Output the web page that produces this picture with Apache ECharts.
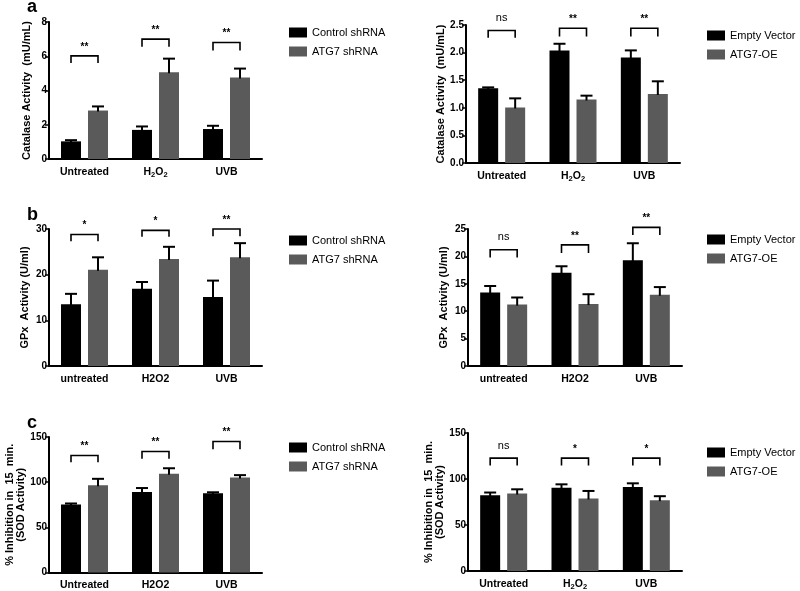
<!DOCTYPE html>
<html>
<head>
<meta charset="utf-8">
<script src="https://cdn.jsdelivr.net/npm/echarts@6/dist/echarts.min.js"></script>
<style>html,body{margin:0;padding:0;background:#fff}#c{width:800px;height:591px}</style>
</head>
<body>
<div id="c"></div>
<script>
// ---------- DATA ----------
const catsA = ['Untreated', 'H2O2', 'UVB'];
const catsB = ['untreated', 'H2O2', 'UVB'];
const catsC = ['Untreated', 'H2O2', 'UVB'];

const legendKD = ['Control shRNA', 'ATG7 shRNA'];
const legendOE = ['Empty Vector', 'ATG7-OE'];

// Panel a, left (knock-down): Catalase
const aL_ctrl = [1.03, 1.70, 1.75];
const aL_ctrlErr = [0.07, 0.20, 0.19];
const aL_atg = [2.83, 5.07, 4.76];
const aL_atgErr = [0.24, 0.79, 0.52];
const aL_sigTop = [6.02, 7.0, 6.8];
const aL_sigLeg = [5.6, 6.56, 6.33];
const aL_sig = ['**', '**', '**'];

// Panel a, right (overexpression): Catalase
const aR_ev = [1.355, 2.04, 1.91];
const aR_evErr = [0.015, 0.12, 0.13];
const aR_oe = [1.006, 1.15, 1.25];
const aR_oeErr = [0.165, 0.07, 0.23];
const aR_sigTop = [2.40, 2.44, 2.44];
const aR_sigLeg = [2.27, 2.29, 2.29];
const aR_sig = ['ns', '**', '**'];

// Panel b, left: GPx
const bL_ctrl = [13.5, 16.9, 15.1];
const bL_ctrlErr = [2.3, 1.5, 3.6];
const bL_atg = [21.1, 23.45, 23.8];
const bL_atgErr = [2.7, 2.65, 3.1];
const bL_sigTop = [28.8, 29.7, 30.0];
const bL_sigLeg = [27.3, 28.3, 28.4];
const bL_sig = ['*', '*', '**'];

// Panel b, right: GPx
const bR_ev = [13.4, 17.0, 19.3];
const bR_evErr = [1.2, 1.2, 3.1];
const bR_oe = [11.2, 11.3, 13.0];
const bR_oeErr = [1.3, 1.8, 1.4];
const bR_sigTop = [21.2, 22.1, 25.3];
const bR_sigLeg = [19.8, 20.6, 23.9];
const bR_sig = ['ns', '**', '**'];

// Panel c, left: SOD
const cL_ctrl = [75.4, 89.2, 87.7];
const cL_ctrlErr = [1.0, 4.3, 1.1];
const cL_atg = [96.5, 109.2, 105.2];
const cL_atgErr = [7.2, 6.2, 2.6];
const cL_sigTop = [129.6, 134, 145];
const cL_sigLeg = [122, 126, 136.5];
const cL_sig = ['**', '**', '**'];

// Panel c, right: SOD
const cR_ev = [82.4, 90.6, 91.4];
const cR_evErr = [2.9, 3.6, 3.9];
const cR_oe = [84.2, 78.8, 77.0];
const cR_oeErr = [4.6, 8.2, 4.3];
const cR_sigTop = [122.7, 122.7, 122.7];
const cR_sigLeg = [114.7, 114.7, 114.7];
const cR_sig = ['ns', '*', '*'];

// y-axis ticks
const aL_yTicks = [0, 2, 4, 6, 8];
const aR_yTicks = [0, 0.5, 1.0, 1.5, 2.0, 2.5];
const bL_yTicks = [0, 10, 20, 30];
const bR_yTicks = [0, 5, 10, 15, 20, 25];
const cL_yTicks = [0, 50, 100, 150];
const cR_yTicks = [0, 50, 100, 150];

const yNames = ['Catalase Activity  (mU/mL)', 'Catalase Activity  (mU/mL)',
  'GPx  Activity (U/ml)', 'GPx  Activity (U/ml)',
  '% Inhibition in  15  min.\n(SOD Activity)', '% Inhibition in  15  min.\n(SOD Activity)'];

// ---------- STYLE / LAYOUT ----------
const BAR_W = 20, BAR_GAP = 7;
const OFF = (BAR_W + BAR_GAP) / 2;
const C_DARK = '#000000', C_GRAY = '#5a5a5a';
const FONT = 'Liberation Sans, Arial, sans-serif';

const panels = [
  {grid: {left: 49, top: 22, width: 213, height: 137}, cats: catsA, sub: true, s: [aL_ctrl, aL_ctrlErr, aL_atg, aL_atgErr], sig: [aL_sigTop, aL_sigLeg, aL_sig], names: legendKD, ticks: aL_yTicks, dec: 0, nameGap: 17, legend: {left: 289, top: 27}},
  {grid: {left: 466, top: 25, width: 214, height: 138}, cats: catsA, sub: true, s: [aR_ev, aR_evErr, aR_oe, aR_oeErr], sig: [aR_sigTop, aR_sigLeg, aR_sig], names: legendOE, ticks: aR_yTicks, dec: 1, nameGap: 18, legend: {left: 707, top: 30}},
  {grid: {left: 49, top: 229, width: 213, height: 137}, cats: catsB, sub: false, s: [bL_ctrl, bL_ctrlErr, bL_atg, bL_atgErr], sig: [bL_sigTop, bL_sigLeg, bL_sig], names: legendKD, ticks: bL_yTicks, dec: 0, nameGap: 19, legend: {left: 289, top: 235}},
  {grid: {left: 468, top: 229, width: 214, height: 137}, cats: catsB, sub: false, s: [bR_ev, bR_evErr, bR_oe, bR_oeErr], sig: [bR_sigTop, bR_sigLeg, bR_sig], names: legendOE, ticks: bR_yTicks, dec: 0, nameGap: 19, legend: {left: 707, top: 234}},
  {grid: {left: 49, top: 437, width: 213, height: 137}, cats: catsC, sub: false, s: [cL_ctrl, cL_ctrlErr, cL_atg, cL_atgErr], sig: [cL_sigTop, cL_sigLeg, cL_sig], names: legendKD, ticks: cL_yTicks, dec: 0, nameGap: 22, legend: {left: 289, top: 442}},
  {grid: {left: 468, top: 433, width: 214, height: 139}, cats: catsC, sub: true, s: [cR_ev, cR_evErr, cR_oe, cR_oeErr], sig: [cR_sigTop, cR_sigLeg, cR_sig], names: legendOE, ticks: cR_yTicks, dec: 0, nameGap: 20, legend: {left: 707, top: 447}}
];

const richLabel = {
  n: {fontSize: 10.5, fontWeight: 'bold', fontFamily: FONT, color: '#000', lineHeight: 14},
  s: {fontSize: 7.5, fontWeight: 'bold', fontFamily: FONT, color: '#000', verticalAlign: 'bottom', lineHeight: 14, padding: [6, 0, 0, 0]}
};

const option = {
  animation: false,
  backgroundColor: '#fff',
  textStyle: {fontFamily: FONT},
  title: [
    {text: 'a', left: 22, top: -7, padding: [5, 5, 5, 5], textStyle: {fontSize: 18, fontWeight: 'bold', color: '#000', fontFamily: FONT}},
    {text: 'b', left: 22, top: 201, textStyle: {fontSize: 18, fontWeight: 'bold', color: '#000', fontFamily: FONT}},
    {text: 'c', left: 22, top: 409, textStyle: {fontSize: 18, fontWeight: 'bold', color: '#000', fontFamily: FONT}}
  ],
  grid: [], xAxis: [], yAxis: [], legend: [], series: []
};

panels.forEach((p, i) => {
  option.grid.push(Object.assign({containLabel: false}, p.grid));
  const ticks = p.ticks;
  const step = ticks[1] - ticks[0];
  option.xAxis.push({
    type: 'category', gridIndex: i, data: p.cats,
    axisLine: {lineStyle: {color: '#000', width: 2}},
    axisTick: {alignWithLabel: true, length: 4, lineStyle: {color: '#000', width: 1.5}},
    axisLabel: {
      interval: 0, margin: 6, color: '#000',
      formatter: v => (p.sub && v === 'H2O2') ? '{n|H}{s|2}{n|O}{s|2}' : '{n|' + v + '}',
      rich: richLabel
    }
  });
  option.yAxis.push({
    type: 'value', gridIndex: i, min: ticks[0], max: ticks[ticks.length - 1], interval: step,
    name: yNames[i], nameLocation: 'middle', nameGap: p.nameGap, nameRotate: 90,
    nameTextStyle: {fontSize: 11, fontWeight: 'bold', color: '#000', fontFamily: FONT, lineHeight: 11, align: 'center'},
    axisLine: {show: true, lineStyle: {color: '#000', width: 2}},
    axisTick: {show: true, length: 4, lineStyle: {color: '#000', width: 1.5}},
    splitLine: {show: false},
    axisLabel: {margin: 2, fontSize: 10, fontWeight: 'bold', color: '#000', fontFamily: FONT,
      formatter: v => v.toFixed(p.dec)}
  });
  option.legend.push({
    data: p.names, left: p.legend.left, top: p.legend.top, orient: 'vertical', padding: 0,
    icon: 'rect', itemWidth: 18, itemHeight: 10, itemGap: 8,
    textStyle: {fontSize: 11, color: '#000', fontFamily: FONT}, selectedMode: false
  });
  const vals = [p.s[0], p.s[2]];
  const errs = [p.s[1], p.s[3]];
  const colors = [C_DARK, C_GRAY];
  [0, 1].forEach(k => {
    option.series.push({
      type: 'bar', name: p.names[k], xAxisIndex: i, yAxisIndex: i,
      data: vals[k], barWidth: BAR_W, barGap: (BAR_GAP / BAR_W * 100) + '%',
      itemStyle: {color: colors[k]}
    });
  });
  // error bars
  const errData = [];
  [0, 1].forEach(k => vals[k].forEach((v, j) => errData.push([j, v, errs[k][j], k])));
  option.series.push({
    type: 'custom', xAxisIndex: i, yAxisIndex: i, data: errData, z: 5,
    renderItem: (params, api) => {
      const j = api.value(0), v = api.value(1), e = api.value(2), k = api.value(3);
      const b = api.coord([j, v]);
      const t = api.coord([j, v + e]);
      const x = b[0] + (k === 0 ? -OFF : OFF);
      const sw = 2;
      return {type: 'group', children: [
        {type: 'line', shape: {x1: x, y1: b[1] + 1, x2: x, y2: t[1]}, style: {stroke: '#000', lineWidth: sw}},
        {type: 'line', shape: {x1: x - 6, y1: t[1], x2: x + 6, y2: t[1]}, style: {stroke: '#000', lineWidth: sw}}
      ]};
    }
  });
  // significance brackets
  const sTop = p.sig[0], sLeg = p.sig[1], sLab = p.sig[2];
  option.series.push({
    type: 'custom', xAxisIndex: i, yAxisIndex: i, z: 6,
    data: sTop.map((t, j) => [j, t, sLeg[j]]),
    renderItem: (params, api) => {
      const j = api.value(0);
      const top = api.coord([j, api.value(1)]);
      const leg = api.coord([j, api.value(2)]);
      const x1 = top[0] - OFF, x2 = top[0] + OFF;
      const lab = sLab[params.dataIndex];
      return {type: 'group', children: [
        {type: 'polyline', shape: {points: [[x1, leg[1]], [x1, top[1]], [x2, top[1]], [x2, leg[1]]]},
          style: {stroke: '#000', lineWidth: 1.6, fill: null}},
        {type: 'text', x: top[0], y: top[1] - (lab === 'ns' ? 7 : 4),
          style: {text: lab, fontSize: lab === 'ns' ? 11 : 10, fontWeight: lab === 'ns' ? 'normal' : 'bold',
            fontFamily: FONT, fill: '#000', align: 'center', verticalAlign: 'bottom'}}
      ]};
    }
  });
});

const chart = echarts.init(document.getElementById('c'), null, {renderer: 'canvas'});
chart.setOption(option);
</script>
</body>
</html>
